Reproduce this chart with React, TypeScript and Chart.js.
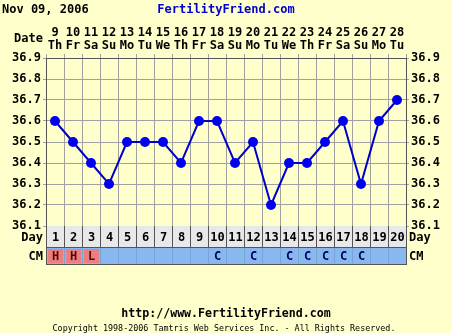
import { useEffect, useRef } from 'react';
import { Chart, registerables } from 'chart.js';

Chart.register(...registerables);

// Calendar dates and weekdays shown across the top of the chart
const DATES = ['9', '10', '11', '12', '13', '14', '15', '16', '17', '18', '19', '20', '21', '22', '23', '24', '25', '26', '27', '28'];
const WEEKDAYS = ['Th', 'Fr', 'Sa', 'Su', 'Mo', 'Tu', 'We', 'Th', 'Fr', 'Sa', 'Su', 'Mo', 'Tu', 'We', 'Th', 'Fr', 'Sa', 'Su', 'Mo', 'Tu'];
// Cycle day numbers (bottom row)
const CYCLE_DAYS = ['1', '2', '3', '4', '5', '6', '7', '8', '9', '10', '11', '12', '13', '14', '15', '16', '17', '18', '19', '20'];
// Basal body temperatures (°C)
const TEMPS = [36.6, 36.5, 36.4, 36.3, 36.5, 36.5, 36.5, 36.4, 36.6, 36.6, 36.4, 36.5, 36.2, 36.4, 36.4, 36.5, 36.6, 36.3, 36.6, 36.7];
// Cervical mucus observations (H = heavy, L = light flow, C = creamy)
const CM = ['H', 'H', 'L', '', '', '', '', '', '', 'C', '', 'C', '', 'C', 'C', 'C', 'C', 'C', '', ''];
const TEMP_MIN = 36.1;
const TEMP_MAX = 36.9;

const TITLE_DATE = 'Nov 09, 2006';
const TITLE_SITE = 'FertilityFriend.com';
const FOOTER_URL = 'http://www.FertilityFriend.com';
const FOOTER_COPY = 'Copyright 1998-2006 Tamtris Web Services Inc. - All Rights Reserved.';

const BG = '#ffffcc';
const GRID = '#a0a0a0';
const BORDER = '#555555';
const CM_BLUE = '#88b8ee';
const MONO = '"DejaVu Sans Mono", monospace';

const W = 452;
const H = 333;

const chartDecor = {
  id: 'chartDecor',
  beforeDraw(chart: any) {
    const { ctx } = chart;
    ctx.save();
    ctx.fillStyle = BG;
    ctx.fillRect(0, 0, chart.width, chart.height);
    ctx.restore();
  },
  afterDraw(chart: any) {
    const { ctx, chartArea } = chart;
    const xs = chart.scales.x;
    const n = CYCLE_DAYS.length;
    const colW = (chartArea.right - chartArea.left) / n;
    const left = chartArea.left;
    const right = chartArea.right;
    const dayTop = chartArea.bottom;
    const dayBot = dayTop + 21;
    const cmTop = dayBot;
    const cmBot = cmTop + 17;

    ctx.save();
    // Header texts
    ctx.textBaseline = 'middle';
    ctx.font = `bold 12px ${MONO}`;
    ctx.fillStyle = '#000000';
    ctx.textAlign = 'left';
    ctx.fillText(TITLE_DATE, 2, 10);
    ctx.fillStyle = '#0000cc';
    ctx.textAlign = 'center';
    ctx.fillText(TITLE_SITE, 226, 10);

    ctx.fillStyle = '#000000';
    ctx.textAlign = 'right';
    ctx.fillText('Date', left - 3, 39);

    // Cycle-day row
    ctx.fillStyle = '#e8e8e8';
    ctx.fillRect(left, dayTop, right - left, dayBot - dayTop);
    // CM row
    ctx.fillStyle = CM_BLUE;
    ctx.fillRect(left, cmTop, right - left, cmBot - cmTop);
    for (let i = 0; i < n; i++) {
      const cx = xs.getPixelForValue(i);
      const x0 = cx - colW / 2;
      if (CM[i] === 'H' || CM[i] === 'L') {
        ctx.fillStyle = '#e88080';
        ctx.fillRect(x0 + 2, cmTop + 2, colW - 3, cmBot - cmTop - 3);
      }
    }
    // faint separators inside the CM row
    ctx.strokeStyle = '#78a4d8';
    ctx.lineWidth = 1;
    ctx.beginPath();
    for (let i = 1; i < n; i++) {
      const x = Math.round(left + i * colW) + 0.5;
      ctx.moveTo(x, cmTop + 1);
      ctx.lineTo(x, cmBot);
    }
    ctx.stroke();

    // grid of the rows
    ctx.strokeStyle = BORDER;
    ctx.beginPath();
    for (let i = 0; i <= n; i++) {
      const x = Math.round(left + i * colW) + 0.5;
      ctx.moveTo(x, dayTop);
      ctx.lineTo(x, dayBot);
    }
    ctx.moveTo(left, dayBot + 0.5);
    ctx.lineTo(right, dayBot + 0.5);
    ctx.moveTo(left, cmBot + 0.5);
    ctx.lineTo(right + 1, cmBot + 0.5);
    ctx.moveTo(left + 0.5, cmTop);
    ctx.lineTo(left + 0.5, cmBot);
    ctx.moveTo(Math.round(right) + 0.5, cmTop);
    ctx.lineTo(Math.round(right) + 0.5, cmBot);
    ctx.stroke();

    ctx.font = `bold 12px ${MONO}`;
    ctx.textAlign = 'center';
    for (let i = 0; i < n; i++) {
      const cx = xs.getPixelForValue(i);
      ctx.fillStyle = '#000000';
      ctx.fillText(CYCLE_DAYS[i], cx + 0.5, (dayTop + dayBot) / 2 + 1);
      if (CM[i]) {
        ctx.fillStyle = CM[i] === 'C' ? '#000066' : '#660000';
        ctx.fillText(CM[i], cx + 0.5, (cmTop + cmBot) / 2 + 1);
      }
    }

    // Row captions on both sides
    ctx.fillStyle = '#000000';
    ctx.textAlign = 'right';
    ctx.fillText('Day', left - 3, (dayTop + dayBot) / 2 + 1);
    ctx.fillText('CM', left - 3, (cmTop + cmBot) / 2 + 1);
    ctx.textAlign = 'left';
    ctx.fillText('Day', right + 3, (dayTop + dayBot) / 2 + 1);
    ctx.fillText('CM', right + 3, (cmTop + cmBot) / 2 + 1);

    // Footer
    ctx.textAlign = 'center';
    ctx.font = `bold 11.6px ${MONO}`;
    ctx.fillText(FOOTER_URL, 226, 314);
    ctx.font = `8.4px ${MONO}`;
    ctx.fillText(FOOTER_COPY, 224, 329);
    ctx.restore();
  },
};

export default function App() {
  const canvasRef = useRef<HTMLCanvasElement | null>(null);

  useEffect(() => {
    const canvas = canvasRef.current;
    if (!canvas) return;
    const yTicks = {
      color: '#000000',
      font: { family: MONO, size: 12, weight: 'bold' as const },
      padding: 2,
      stepSize: 0.1,
      callback: (v: any) => Number(v).toFixed(1),
    };
    const chart = new Chart(canvas, {
      type: 'line',
      data: {
        labels: DATES.map((d, i) => [d, WEEKDAYS[i]]),
        datasets: [
          {
            data: TEMPS,
            borderColor: '#0000cc',
            borderWidth: 2,
            pointRadius: 5,
            pointBackgroundColor: '#0000ee',
            pointBorderColor: '#0000ee',
            pointBorderWidth: 0,
            tension: 0,
            yAxisID: 'y',
          },
        ],
      },
      options: {
        responsive: false,
        animation: false,
        events: [],
        layout: { padding: { top: 0, bottom: H - 226, left: 0, right: 0 } },
        plugins: { legend: { display: false }, tooltip: { enabled: false } },
        scales: {
          x: {
            type: 'category',
            position: 'top',
            offset: true,
            grid: { color: GRID, offset: true, tickLength: 4, drawTicks: true },
            border: { color: BORDER },
            ticks: {
              color: '#000000',
              font: { family: MONO, size: 12, weight: 'bold', lineHeight: 1.08 },
              padding: 2,
              maxRotation: 0,
              autoSkip: false,
            },
            afterFit: (s: any) => {
              s.height = 58;
            },
          },
          y: {
            position: 'left',
            min: TEMP_MIN,
            max: TEMP_MAX,
            grid: { color: GRID, tickLength: 3 },
            border: { color: BORDER },
            ticks: yTicks,
            afterFit: (s: any) => {
              s.width = 46;
            },
          },
          y2: {
            position: 'right',
            min: TEMP_MIN,
            max: TEMP_MAX,
            grid: { drawOnChartArea: false, tickLength: 3, color: GRID },
            border: { color: BORDER },
            ticks: yTicks,
            afterFit: (s: any) => {
              s.width = 46;
            },
          },
        },
      },
      plugins: [chartDecor],
    });
    return () => chart.destroy();
  }, []);

  return (
    <div style={{ position: 'fixed', left: 0, top: 0, width: W, height: H }}>
      <canvas ref={canvasRef} width={W} height={H} style={{ display: 'block' }} />
    </div>
  );
}
